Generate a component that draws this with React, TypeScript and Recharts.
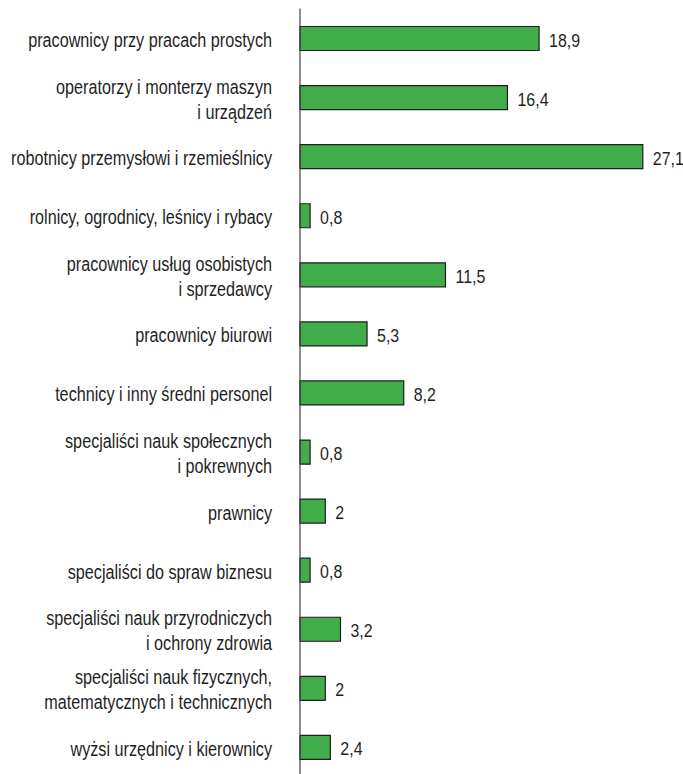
import { Bar, BarChart, LabelList, XAxis, YAxis } from "recharts";

const categories = [
  "pracownicy przy pracach prostych",
  "operatorzy i monterzy maszyn\ni urządzeń",
  "robotnicy przemysłowi i rzemieślnicy",
  "rolnicy, ogrodnicy, leśnicy i rybacy",
  "pracownicy usług osobistych\ni sprzedawcy",
  "pracownicy biurowi",
  "technicy i inny średni personel",
  "specjaliści nauk społecznych\ni pokrewnych",
  "prawnicy",
  "specjaliści do spraw biznesu",
  "specjaliści nauk przyrodniczych\ni ochrony zdrowia",
  "specjaliści nauk fizycznych,\nmatematycznych i technicznych",
  "wyżsi urzędnicy i kierownicy",
];

const values = [18.9, 16.4, 27.1, 0.8, 11.5, 5.3, 8.2, 0.8, 2, 0.8, 3.2, 2, 2.4];

const data = categories.map((name, i) => ({ name, value: values[i] }));

// no narrow font installed, so squeeze Liberation Sans horizontally
const FONT = "'Liberation Sans', Arial, sans-serif";

function CategoryTick(props: any) {
  const { x, y, payload } = props;
  const lines = String(payload.value).split("\n");
  const lh = 25;
  const first = y + 9 - ((lines.length - 1) * lh) / 2;
  return (
    <g transform={`translate(${x},0) scale(0.81,1)`}>
      <text x={0} y={first} textAnchor="end" fontFamily={FONT} fontSize={20} fill="#1f1f1f">
        {lines.map((l, i) => (
          <tspan key={i} x={0} y={first + i * lh}>
            {l}
          </tspan>
        ))}
      </text>
    </g>
  );
}

function ValueLabel(props: any) {
  const { x, y, width, height, value } = props;
  const tx = Number(x) + Number(width) + 10;
  const ty = Number(y) + Number(height) / 2 + 8;
  return (
    <text
      transform={`translate(${tx},${ty}) scale(0.84,1)`}
      x={0}
      y={0}
      fontFamily={FONT}
      fontSize={19}
      fill="#1f1f1f"
    >
      {String(value).replace(".", ",")}
    </text>
  );
}

export default function App() {
  return (
    <div style={{ position: "absolute", left: 0, top: 0, background: "#fff" }}>
      <BarChart
        width={683}
        height={785}
        data={data}
        layout="vertical"
        margin={{ top: 8.5, right: 3.5, bottom: 8.5, left: 0 }}
      >
        <XAxis type="number" domain={[0, 30]} hide />
        <YAxis
          type="category"
          dataKey="name"
          width={300}
          tickLine={false}
          tickSize={0}
          tickMargin={28}
          axisLine={{ stroke: "#444", strokeWidth: 1.2 }}
          tick={<CategoryTick />}
          interval={0}
        />
        <Bar
          dataKey="value"
          fill="#41ad4a"
          stroke="#1e1e1e"
          strokeWidth={1.2}
          barSize={24}
          isAnimationActive={false}
        >
          <LabelList dataKey="value" content={<ValueLabel />} />
        </Bar>
      </BarChart>
    </div>
  );
}
